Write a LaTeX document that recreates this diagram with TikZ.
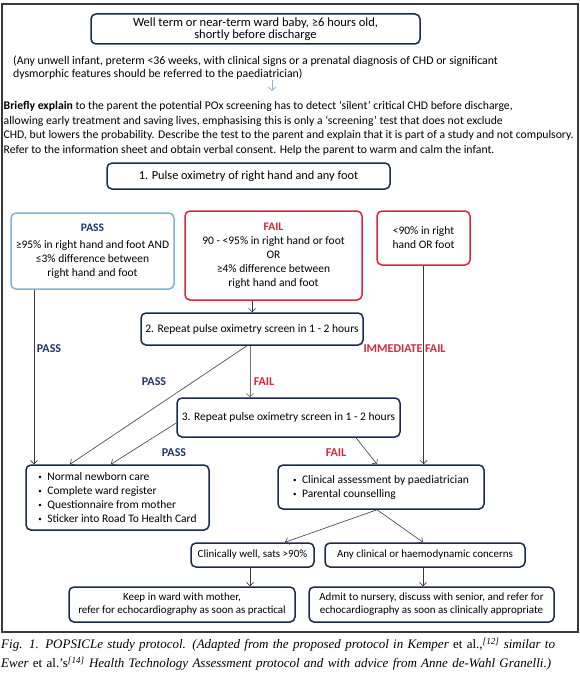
\documentclass[tikz,border=0pt]{standalone}
\usepackage{fontspec}
\newfontfamily\sansf{Carlito}
\newfontfamily\capf{Liberation Serif}
\usetikzlibrary{arrows.meta}
\definecolor{navy}{HTML}{1B2A4A}
\definecolor{passblue}{HTML}{7FB2D9}
\definecolor{failred}{HTML}{D9263A}
\definecolor{labnavy}{HTML}{1F3566}
\definecolor{linegray}{HTML}{3A3A3A}
\definecolor{lightgray2}{HTML}{707070}
\definecolor{framegray}{HTML}{3A3A3A}
\definecolor{arrowblue}{HTML}{8DB6D6}
\newcommand\mybul{\makebox[9pt][l]{\raisebox{0.15ex}{\scriptsize •}}}
\begin{document}
\begin{tikzpicture}[x=1pt,y=-1pt,
  font=\sansf\fontsize{11.5}{14}\selectfont,
  box/.style={draw=navy, line width=1.5pt, rounded corners=5pt, inner sep=1pt, align=center},
  passbox/.style={box, draw=passblue},
  failbox/.style={box, draw=failred},
  conn/.style={draw=linegray, line width=0.6pt, -{Straight Barb[length=3.5pt,width=7pt]}},
  bluearr/.style={draw=arrowblue, line width=0.8pt, -{Straight Barb[length=3.5pt,width=8pt]}},
  lab/.style={font=\sansf\bfseries\fontsize{12}{13}\selectfont, text=labnavy, inner sep=0},
  flab/.style={lab, text=failred}]
\useasboundingbox (0,0) rectangle (580,682);
\node[draw=framegray, line width=1.1pt, minimum width=576pt, minimum height=628pt, inner sep=0] (frame) at (290,318) {};

\node[box, minimum width=329pt, minimum height=30pt, font=\sansf\fontsize{12.5}{12.5}\selectfont] (top) at (255.5,29)
  {Well term or near-term ward baby, ≥6 hours old,\\shortly before discharge};
\node[anchor=west, align=left, inner sep=0, font=\sansf\fontsize{11.8}{13}\selectfont] (note) at (13,67.5)
  {(Any unwell infant, preterm <36 weeks, with clinical signs or a prenatal diagnosis of CHD or significant\\dysmorphic features should be referred to the paediatrician)};
\coordinate (ba) at (272,80);
\coordinate (bb) at (272,91);
\draw[bluearr] (ba) -- (bb);
\node[anchor=west, align=left, inner sep=0, font=\sansf\fontsize{11.7}{14.5}\selectfont] (para) at (3.5,128)
  {\textbf{Briefly explain} to the parent the potential POx screening has to detect ‘silent’ critical CHD before discharge,\\
   allowing early treatment and saving lives, emphasising this is only a ‘screening’ test that does not exclude\\
   CHD, but lowers the probability. Describe the test to the parent and explain that it is part of a study and not compulsory.\\
   Refer to the information sheet and obtain verbal consent. Help the parent to warm and calm the infant.};

\node[box, minimum width=283pt, minimum height=26pt, font=\sansf\fontsize{12.3}{13}\selectfont] (pulse) at (248.5,176) {1. Pulse oximetry of right hand and any foot};

\node[passbox, minimum width=163pt, minimum height=76pt] (pass) at (92.5,251)
  {\textcolor{labnavy}{\textbf{PASS}}\\[3pt]≥95\% in right hand and foot AND\\≤3\% difference between\\right hand and foot};
\node[failbox, minimum width=177pt, minimum height=89pt] (fail) at (273.5,255.5)
  {\textcolor{failred}{\textbf{FAIL}}\\90 - <95\% in right hand or foot\\OR\\≥4\% difference between\\right hand and foot};
\node[failbox, minimum width=93pt, minimum height=54pt] (lt90) at (423.5,238)
  {<90\% in right\\hand OR foot};

\node[box, minimum width=222pt, minimum height=32pt] (box2) at (252,329) {2. Repeat pulse oximetry screen in 1 - 2 hours};
\node[box, minimum width=223pt, minimum height=39pt] (box3) at (288.5,417.5) {3. Repeat pulse oximetry screen in 1 - 2 hours};

\node[box, align=left, minimum width=183pt, minimum height=65pt] (normal) at (117.5,497.5)
  {\mybul Normal newborn care\\\mybul Complete ward register\\\mybul Questionnaire from mother\\\mybul Sticker into Road To Health Card};
\node[box, align=left, minimum width=206pt, minimum height=44pt] (clinical) at (381,487)
  {\mybul Clinical assessment by paediatrician\\\mybul Parental counselling};

\node[box, minimum width=123pt, minimum height=24pt, font=\sansf\fontsize{11}{13}\selectfont] (well) at (252.5,555) {Clinically well, sats >90\%};
\node[box, minimum width=200pt, minimum height=24pt, font=\sansf\fontsize{11}{13}\selectfont] (concerns) at (425,555) {Any clinical or haemodynamic concerns};
\node[box, minimum width=226pt, minimum height=35pt, font=\sansf\fontsize{11}{13}\selectfont] (keep) at (182,604.5)
  {Keep in ward with mother,\\refer for echocardiography as soon as practical};
\node[box, minimum width=245pt, minimum height=35pt, font=\sansf\fontsize{11}{13}\selectfont] (admit) at (431.5,604.5)
  {Admit to nursery, discuss with senior, and refer for\\echocardiography as soon as clinically appropriate};

% labels
\node[lab] (l1) at (49,349) {PASS};
\node[flab] (l2) at (404.5,349) {IMMEDIATE FAIL};
\node[lab] (l3) at (154,382) {PASS};
\node[flab] (l4) at (264,382) {FAIL};
\node[lab] (l5) at (174,453) {PASS};
\node[flab] (l6) at (336,453) {FAIL};

% connectors
\draw[conn] ([xshift=-58.5pt]pass.south) -- ([xshift=-58.5pt]pass.south |- normal.north);
\draw[conn] (lt90.south) -- (lt90.south |- clinical.north);
\draw[conn] (box2.north |- fail.south) -- (box2.north);
\draw[conn, draw=lightgray2] ([xshift=-2pt]box2.south) -- ([xshift=-2pt]box2.south |- box3.north);
\draw[conn] ([xshift=-5pt]box2.south) -- ([xshift=-47.5pt]normal.north);
\draw[conn] ([yshift=-5.5pt]box3.west) -- ([xshift=-6.5pt]normal.north);
\draw[conn] ([xshift=67.5pt]box3.south) -- ([xshift=-4pt]clinical.north);
\draw[conn] ([xshift=-4pt]clinical.south) -- ([xshift=32.5pt]well.north);
\draw[conn] ([xshift=-4pt]clinical.south) -- ([xshift=-2pt]concerns.north);
\draw[conn] ([xshift=-2.5pt]well.south) -- ([xshift=-2.5pt]well.south |- keep.north);
\draw[conn] ([xshift=-2pt]concerns.south) -- ([xshift=-2pt]concerns.south |- admit.north);

% caption
\node[anchor=north west, inner sep=0, text width=577pt, font=\capf\itshape\fontsize{13}{19}\selectfont] (cap) at (1,638)
  {\noindent Fig. 1. POPSICLe study protocol. (Adapted from the proposed protocol in Kemper {\upshape et al.,}\textsuperscript{[12]} similar to\linebreak
   Ewer {\upshape et al.’s}\textsuperscript{[14]} Health Technology Assessment protocol and with advice from Anne de-Wahl Granelli.)};
\end{tikzpicture}
\end{document}
